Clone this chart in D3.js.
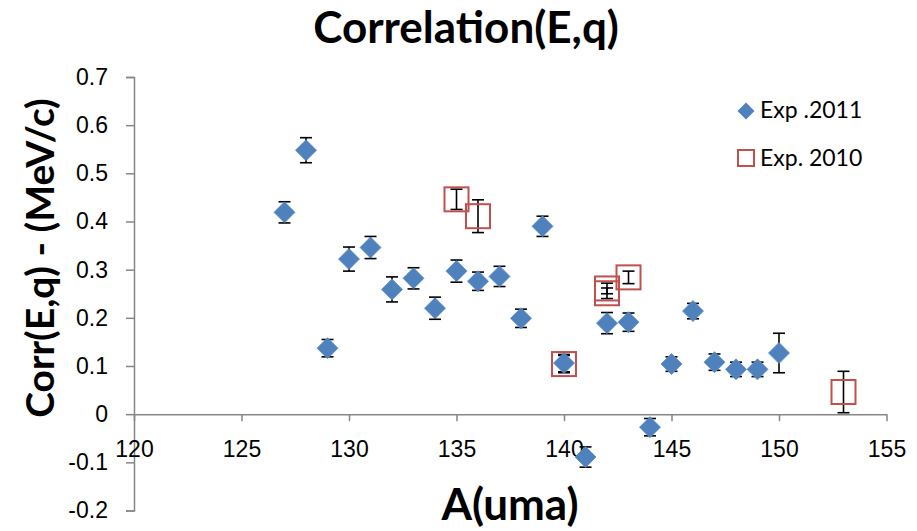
<!DOCTYPE html>
<html>
<head>
<meta charset="utf-8">
<script src="https://cdn.jsdelivr.net/npm/d3@7"></script>
<style>
  body { margin: 0; background: #fff; }
  svg { font-family: Lato, "Open Sans", sans-serif; }
  .axis path, .axis line { stroke: #868686; stroke-width: 1.5; }
  .axis text { fill: #000; font-size: 23px; }
</style>
</head>
<body>
<div id="chart"></div>
<script>
// Exp .2011 series (diamonds)
var massA2011 = [127, 128, 129, 130, 131, 132, 133, 134, 135, 136, 137, 138,
                 139, 140, 141, 142, 143, 144, 145, 146, 147, 148, 149, 150];
var corr2011 = [0.419, 0.548, 0.137, 0.322, 0.346, 0.259, 0.282, 0.220, 0.297, 0.276, 0.286, 0.199,
                0.390, 0.106, -0.089, 0.189, 0.191, -0.027, 0.104, 0.214, 0.108, 0.093, 0.093, 0.127];
var err2011 = [0.022, 0.026, 0.018, 0.025, 0.023, 0.026, 0.022, 0.023, 0.023, 0.019, 0.021, 0.019,
               0.021, 0.018, 0.021, 0.022, 0.019, 0.018, 0.015, 0.016, 0.017, 0.015, 0.015, 0.041];

// Exp. 2010 series (open squares)
var massA2010 = [135, 136, 140, 142, 142, 143, 153];
var corr2010 = [0.446, 0.411, 0.104, 0.261, 0.251, 0.284, 0.046];
var err2010 = [0.021, 0.034, 0.018, 0.011, 0.011, 0.013, 0.043];

// axes
var xTicks = [120, 125, 130, 135, 140, 145, 150, 155];
var yTicks = [-0.2, -0.1, 0, 0.1, 0.2, 0.3, 0.4, 0.5, 0.6, 0.7];
var yTickLabels = ["-0.2", "-0.1", "0", "0.1", "0.2", "0.3", "0.4", "0.5", "0.6", "0.7"];
var seriesNames = ["Exp .2011", "Exp. 2010"];

var width = 917, height = 531;
var blue = "#4F81BD", red = "#C0504D";

var svg = d3.select("#chart").append("svg")
    .attr("width", width)
    .attr("height", height);

var x = d3.scaleLinear().domain([120, 155]).range([134, 886.5]);
var y = d3.scaleLinear().domain([-0.2, 0.7]).range([510.5, 77]);

//y axis on the left, ticks outside
var yAxis = svg.append("g").attr("class", "axis")
    .attr("transform", "translate(" + x(120) + ",0)")
    .call(d3.axisLeft(y).tickValues(yTicks).tickSize(8).tickSizeOuter(8).tickPadding(18)
        .tickFormat(function(d, i){ return yTickLabels[i]; }));

//x axis crosses at zero
var xAxis = svg.append("g").attr("class", "axis")
    .attr("transform", "translate(0," + y(0) + ")")
    .call(d3.axisBottom(x).tickValues(xTicks).tickSize(7).tickSizeOuter(0)
        .tickFormat(function(d){ return d; }));
xAxis.selectAll("text").attr("y", 43).attr("dy", 0);

function errBars(g, xs, vs, es) {
    var cap = 6;
    var bars = g.selectAll("g").data(xs).enter().append("g")
        .attr("stroke", "#000").attr("stroke-width", 1.6);
    bars.append("line")
        .attr("x1", function(d){ return x(d); })
        .attr("x2", function(d){ return x(d); })
        .attr("y1", function(d, i){ return y(vs[i] + es[i]); })
        .attr("y2", function(d, i){ return y(vs[i] - es[i]); });
    bars.append("line")
        .attr("x1", function(d){ return x(d) - cap; })
        .attr("x2", function(d){ return x(d) + cap; })
        .attr("y1", function(d, i){ return y(vs[i] + es[i]); })
        .attr("y2", function(d, i){ return y(vs[i] + es[i]); });
    bars.append("line")
        .attr("x1", function(d){ return x(d) - cap; })
        .attr("x2", function(d){ return x(d) + cap; })
        .attr("y1", function(d, i){ return y(vs[i] - es[i]); })
        .attr("y2", function(d, i){ return y(vs[i] - es[i]); });
}

function diamond(cx, cy, r) {
    return "M" + cx + "," + (cy - r) + "L" + (cx + r) + "," + cy +
           "L" + cx + "," + (cy + r) + "L" + (cx - r) + "," + cy + "Z";
}

errBars(svg.append("g"), massA2011, corr2011, err2011);
errBars(svg.append("g"), massA2010, corr2010, err2010);

svg.append("g").selectAll("path").data(massA2011).enter().append("path")
    .attr("d", function(d, i){ return diamond(x(d), y(corr2011[i]), 10.5); })
    .attr("fill", blue)
    .attr("stroke", "#5B8CC6").attr("stroke-width", 0.8);

var sq = 24;
svg.append("g").selectAll("rect").data(massA2010).enter().append("rect")
    .attr("x", function(d){ return x(d) - sq / 2; })
    .attr("y", function(d, i){ return y(corr2010[i]) - sq / 2; })
    .attr("width", sq).attr("height", sq)
    .attr("fill", "none")
    .attr("stroke", red).attr("stroke-width", 2);

//legend
var legend = svg.append("g");
legend.append("path").attr("d", diamond(746, 111, 8.5)).attr("fill", blue);
legend.append("rect").attr("x", 738).attr("y", 150).attr("width", 16).attr("height", 16)
    .attr("fill", "none").attr("stroke", red).attr("stroke-width", 2);
legend.selectAll("text").data(seriesNames).enter().append("text")
    .attr("x", 760)
    .attr("y", function(d, i){ return 118 + i * 48; })
    .attr("font-size", 23)
    .text(function(d){ return d; });

//titles
svg.append("text")
    .attr("x", 466).attr("y", 43)
    .attr("text-anchor", "middle")
    .attr("font-weight", "bold").attr("font-size", 44)
    .text("Correlation(E,q)");

svg.append("text")
    .attr("transform", "translate(54,258) rotate(-90)")
    .attr("text-anchor", "middle")
    .attr("font-weight", "bold").attr("font-size", 39)
    .text("Corr(E,q) - (MeV/c)");

svg.append("text")
    .attr("x", 510).attr("y", 520)
    .attr("text-anchor", "middle")
    .attr("font-weight", "bold").attr("font-size", 44)
    .text("A(uma)");
</script>
</body>
</html>
